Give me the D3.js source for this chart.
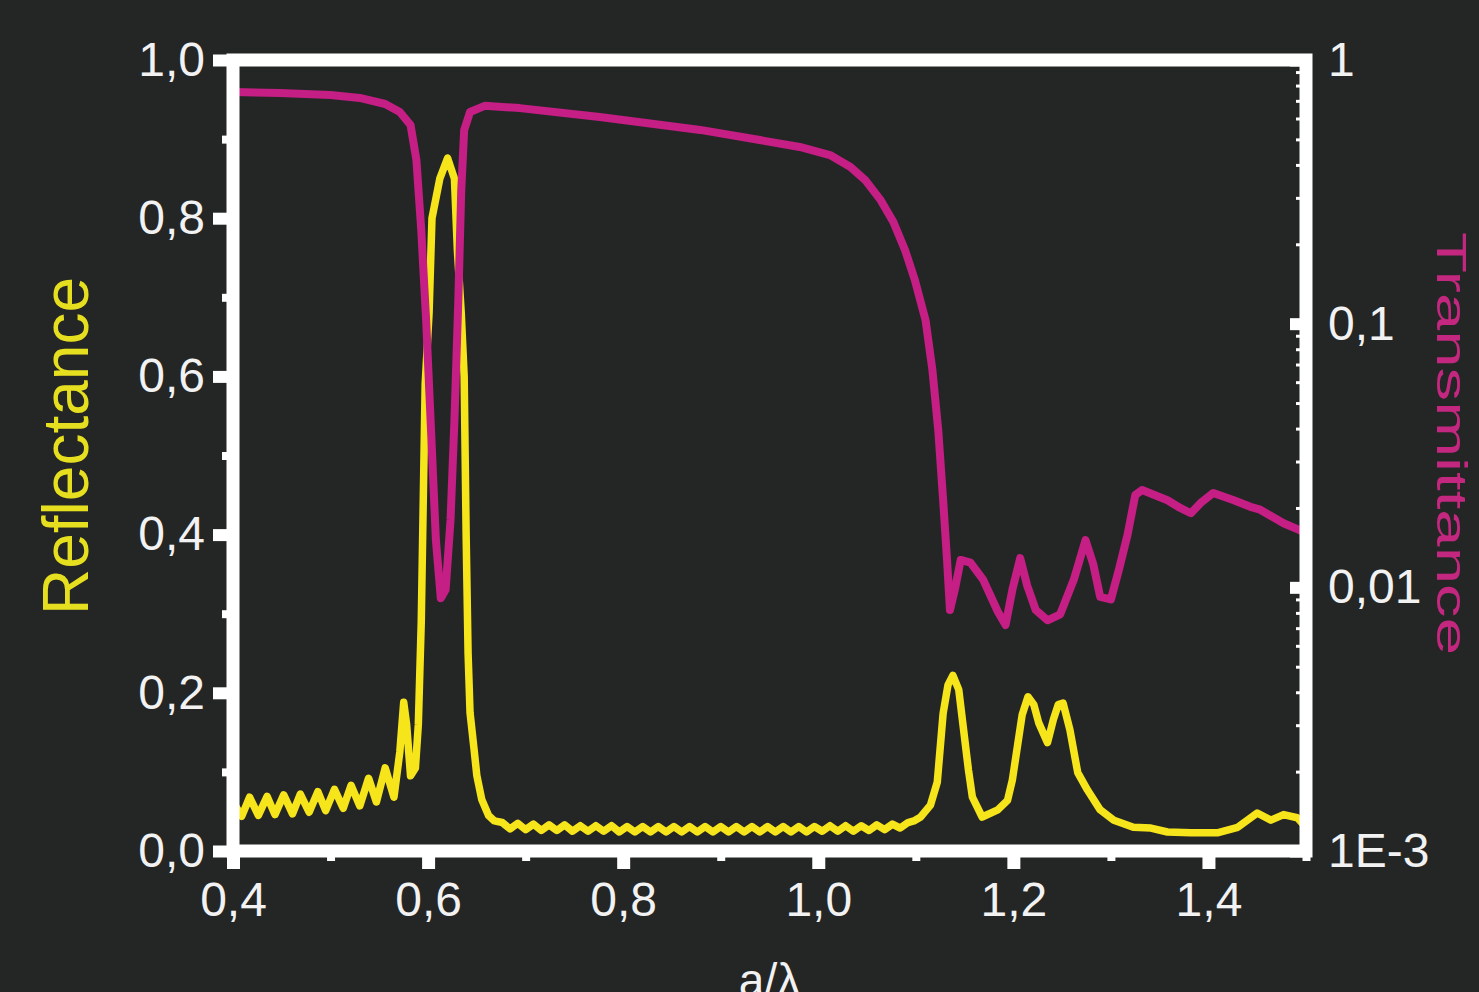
<!DOCTYPE html>
<meta charset="utf-8">
<script src="https://d3js.org/d3.v7.min.js"></script>
<style>
   body {
      margin: 0;
      padding: 0;
      background-color: #242626;
      overflow: hidden;
   }
   text {
      font-family: "Liberation Sans", Arial, sans-serif;
   }
</style>
<body>
<svg id="chart" width="1479" height="992"></svg>
<script>
// reflectance (left axis, linear)
var reflX = [0.400, 0.409, 0.417, 0.426, 0.435, 0.443, 0.452, 0.461, 0.469, 0.478,
   0.487, 0.495, 0.504, 0.513, 0.521, 0.530, 0.539, 0.547, 0.556, 0.565,
   0.571, 0.575, 0.578, 0.582, 0.587, 0.590, 0.593, 0.595, 0.597, 0.601,
   0.604, 0.612, 0.620, 0.627, 0.630, 0.634, 0.637, 0.639, 0.641, 0.643,
   0.647, 0.650, 0.655, 0.662, 0.668,
   0.676, 0.684, 0.692, 0.700, 0.708, 0.716, 0.724, 0.732, 0.740, 0.748,
   0.756, 0.764, 0.772, 0.780, 0.788, 0.796, 0.804, 0.812, 0.820, 0.828,
   0.836, 0.844, 0.852, 0.860, 0.868, 0.876, 0.884, 0.892, 0.900, 0.908,
   0.916, 0.924, 0.932, 0.940, 0.948, 0.956, 0.964, 0.972, 0.980, 0.988,
   0.996, 1.004, 1.012, 1.020, 1.028, 1.036, 1.044, 1.052, 1.060, 1.068,
   1.076, 1.084, 1.092, 1.098,
   1.105, 1.115, 1.122, 1.128, 1.133, 1.138, 1.144, 1.149, 1.154, 1.158,
   1.168, 1.184, 1.194, 1.199, 1.204, 1.209, 1.215, 1.221, 1.226, 1.235,
   1.241, 1.246, 1.251, 1.258, 1.266, 1.276, 1.289, 1.303, 1.323, 1.341,
   1.358, 1.382, 1.409, 1.430, 1.450, 1.464, 1.477, 1.491, 1.500];
var reflY = [0.062, 0.044, 0.068, 0.045, 0.069, 0.046, 0.071, 0.047, 0.072, 0.049,
   0.075, 0.051, 0.078, 0.054, 0.083, 0.057, 0.092, 0.062, 0.105, 0.068,
   0.125, 0.188, 0.160, 0.095, 0.105, 0.160, 0.290, 0.440, 0.590, 0.680,
   0.800, 0.850, 0.876, 0.850, 0.760, 0.680, 0.600, 0.400, 0.250, 0.175,
   0.130, 0.095, 0.065, 0.045, 0.038,
   0.036, 0.028, 0.035, 0.027, 0.034, 0.026, 0.033, 0.026, 0.033, 0.025,
   0.032, 0.025, 0.032, 0.025, 0.032, 0.024, 0.031, 0.024, 0.031, 0.024,
   0.031, 0.024, 0.031, 0.024, 0.031, 0.024, 0.031, 0.024, 0.031, 0.024,
   0.031, 0.024, 0.031, 0.024, 0.031, 0.024, 0.031, 0.024, 0.031, 0.024,
   0.031, 0.025, 0.032, 0.025, 0.032, 0.025, 0.032, 0.026, 0.033, 0.027,
   0.034, 0.029, 0.036, 0.038,
   0.043, 0.058, 0.087, 0.174, 0.210, 0.222, 0.204, 0.153, 0.102, 0.068,
   0.043, 0.052, 0.064, 0.090, 0.131, 0.172, 0.195, 0.185, 0.162, 0.137,
   0.166, 0.185, 0.187, 0.153, 0.099, 0.077, 0.052, 0.039, 0.030, 0.029,
   0.024, 0.023, 0.023, 0.030, 0.048, 0.039, 0.046, 0.042, 0.030];

// transmittance (right axis, log)
var transX = [0.400, 0.448, 0.500, 0.530, 0.556, 0.571, 0.582, 0.588, 0.593, 0.598,
   0.603, 0.608, 0.613, 0.618, 0.623, 0.627, 0.631, 0.634, 0.637, 0.643,
   0.658, 0.694, 0.776, 0.879, 0.940, 0.981, 1.012, 1.033, 1.048, 1.064,
   1.077, 1.089, 1.099, 1.110, 1.117, 1.123, 1.128, 1.132, 1.135, 1.140,
   1.146, 1.156, 1.169, 1.184, 1.192, 1.199, 1.207, 1.214, 1.223, 1.235,
   1.248, 1.262, 1.274, 1.282, 1.289, 1.300, 1.308, 1.317, 1.325, 1.332,
   1.358, 1.371, 1.382, 1.392, 1.405, 1.426, 1.443, 1.453, 1.477, 1.500];
var transY = [0.756, 0.750, 0.736, 0.718, 0.681, 0.635, 0.567, 0.418, 0.226, 0.103,
   0.0395, 0.0151, 0.0091, 0.0098, 0.018, 0.043, 0.123, 0.321, 0.543, 0.635,
   0.670, 0.657, 0.608, 0.543, 0.497, 0.468, 0.436, 0.393, 0.351, 0.294,
   0.243, 0.190, 0.1465, 0.103, 0.0667, 0.0395, 0.0214, 0.0127, 0.0082, 0.0098,
   0.0127, 0.0124, 0.0107, 0.0081, 0.0072, 0.0098, 0.0129, 0.0102, 0.0082, 0.0075,
   0.0079, 0.0107, 0.0151, 0.0122, 0.0092, 0.0090, 0.0116, 0.0158, 0.0224, 0.0234,
   0.0214, 0.0200, 0.0191, 0.0209, 0.0228, 0.0214, 0.0202, 0.0197, 0.0175, 0.0161];

var xTicks = [0.4, 0.6, 0.8, 1.0, 1.2, 1.4];
var xMinor = [0.5, 0.7, 0.9, 1.1, 1.3, 1.5];
var rTicks = [0.0, 0.2, 0.4, 0.6, 0.8, 1.0];
var rMinor = [0.1, 0.3, 0.5, 0.7, 0.9];
var tTicks = [0.001, 0.01, 0.1, 1];
var tLabels = ["1E-3", "0,01", "0,1", "1"];
var tMinor = [0.002, 0.003, 0.004, 0.005, 0.006, 0.007, 0.008, 0.009,
   0.02, 0.03, 0.04, 0.05, 0.06, 0.07, 0.08, 0.09,
   0.2, 0.3, 0.4, 0.5, 0.6, 0.7, 0.8, 0.9];

var svg = d3.select("#chart"),
   width = +svg.attr("width"),
   height = +svg.attr("height");

// plot box (frame centre lines)
var pLeft = 233, pRight = 1306, pTop = 60, pBottom = 851;

var x = d3.scaleLinear().domain([0.4, 1.5]).range([pLeft, pRight]);
var yR = d3.scaleLinear().domain([0, 1]).range([pBottom, pTop]);
var yT = d3.scaleLog().domain([0.001, 1]).range([pBottom, pTop]);

var comma = function (d) { return d3.format(".1f")(d).replace(".", ","); };

svg.append("rect")
   .attr("width", width).attr("height", height)
   .attr("fill", "#242626");

svg.append("clipPath").attr("id", "plot")
   .append("rect")
   .attr("x", pLeft).attr("y", pTop)
   .attr("width", pRight - pLeft).attr("height", pBottom - pTop);

// curves
var reflLine = d3.line()
   .x(function (d) { return x(d[0]); })
   .y(function (d) { return yR(d[1]); });
var transLine = d3.line()
   .x(function (d) { return x(d[0]); })
   .y(function (d) { return yT(d[1]); });

var curves = svg.append("g").attr("clip-path", "url(#plot)");
curves.append("path")
   .datum(d3.zip(reflX, reflY))
   .attr("d", reflLine)
   .attr("fill", "none")
   .attr("stroke", "#f7e51b")
   .attr("stroke-width", 7.5)
   .attr("stroke-linejoin", "round");
curves.append("path")
   .datum(d3.zip(transX, transY))
   .attr("d", transLine)
   .attr("fill", "none")
   .attr("stroke", "#c51e84")
   .attr("stroke-width", 8)
   .attr("stroke-linejoin", "round");

function styleAxis(g, w) {
   g.select(".domain").remove();
   g.selectAll("line").attr("stroke", "#fff").attr("stroke-width", w);
   g.selectAll("text")
      .attr("fill", "#f2f2f2")
      .style("font-size", "48px");
}

// minor ticks first
svg.append("g").attr("transform", "translate(" + pLeft + ",0)")
   .call(d3.axisLeft(yR).tickValues(rMinor).tickSize(11).tickFormat(""))
   .call(styleAxis, 8);
svg.append("g").attr("transform", "translate(0," + pBottom + ")")
   .call(d3.axisBottom(x).tickValues(xMinor).tickSize(10).tickFormat(""))
   .call(styleAxis, 8);
svg.append("g").attr("transform", "translate(" + pRight + ",0)")
   .call(d3.axisRight(yT).tickValues(tMinor).tickSize(-10).tickFormat(""))
   .call(styleAxis, 3);

// major ticks
svg.append("g").attr("transform", "translate(" + pLeft + ",0)")
   .call(d3.axisLeft(yR).tickValues(rTicks).tickSize(20).tickPadding(8).tickFormat(comma))
   .call(styleAxis, 12);
svg.append("g").attr("transform", "translate(0," + pBottom + ")")
   .call(d3.axisBottom(x).tickValues(xTicks).tickSize(18).tickPadding(13).tickFormat(comma))
   .call(styleAxis, 13);
svg.append("g").attr("transform", "translate(" + pRight + ",0)")
   .call(d3.axisRight(yT).tickValues(tTicks).tickSize(-16).tickPadding(22)
      .tickFormat(function (d, i) { return tLabels[i]; }))
   .call(styleAxis, 12);

// frame
svg.append("rect")
   .attr("x", pLeft).attr("y", pTop)
   .attr("width", pRight - pLeft).attr("height", pBottom - pTop)
   .attr("fill", "none")
   .attr("stroke", "#fff")
   .attr("stroke-width", 13);

// axis titles
svg.append("text")
   .attr("transform", "translate(88,446) rotate(-90)")
   .attr("text-anchor", "middle")
   .attr("fill", "#e6df1f")
   .style("font-size", "64px")
   .text("Reflectance");

svg.append("text")
   .attr("transform", "translate(1437,232) rotate(90)")
   .attr("text-anchor", "start")
   .attr("fill", "#c4277f")
   .attr("textLength", 423)
   .attr("lengthAdjust", "spacingAndGlyphs")
   .style("font-size", "42px")
   .text("Transmittance");

svg.append("text")
   .attr("x", x(0.95))
   .attr("y", 996)
   .attr("text-anchor", "middle")
   .attr("fill", "#f2f2f2")
   .style("font-size", "46px")
   .text("a/λ");
</script>
</body>
